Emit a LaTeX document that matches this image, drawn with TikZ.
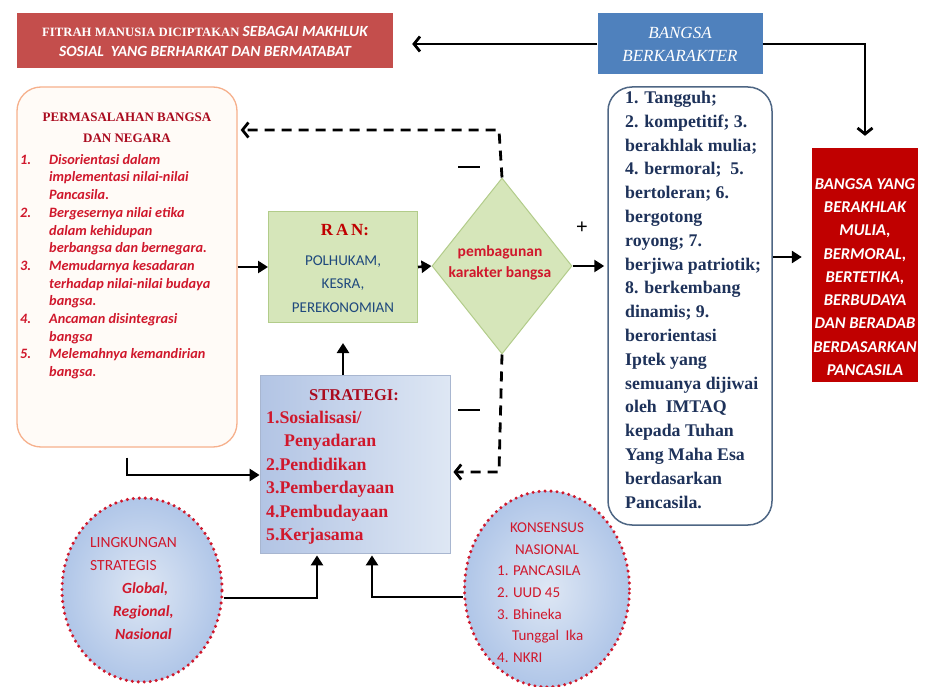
\documentclass[tikz,border=0pt]{standalone}
\usepackage{fontspec}
\setmainfont{Liberation Serif}
\newfontfamily\calib{Carlito}
\newfontfamily\lsans{Liberation Sans}
\usetikzlibrary{arrows.meta,positioning,shapes.geometric}
\definecolor{banner}{RGB}{196,78,76}
\definecolor{bblue}{RGB}{79,129,189}
\definecolor{dred}{RGB}{192,0,0}
\definecolor{txtred}{RGB}{208,24,44}
\definecolor{judulred}{RGB}{170,10,30}
\definecolor{navy}{RGB}{30,50,90}
\definecolor{ranblue}{RGB}{31,73,125}
\definecolor{rangreen}{RGB}{214,230,186}
\definecolor{ranedge}{RGB}{178,204,138}
\definecolor{salmon}{RGB}{246,176,140}
\definecolor{cream}{RGB}{255,251,247}
\definecolor{frameblue}{RGB}{78,102,132}
\definecolor{stratdark}{RGB}{178,196,228}
\definecolor{stratlight}{RGB}{222,231,244}
\definecolor{ellblue}{RGB}{176,198,232}
\newcommand{\fs}[2]{\fontsize{#1}{#2}\selectfont}
\newcommand{\nomor}[2]{\makebox[29pt][l]{#1}#2}
\newcommand{\lanjut}[1]{\hspace*{29pt}#1}

\begin{document}
\begin{tikzpicture}[x=1pt,y=-1pt,
    kotak/.style={rectangle, inner sep=0pt},
    teks/.style={inner sep=0pt, align=left},
    arr/.style={-{Triangle[length=10pt,width=12pt]}, line width=2.6pt},
    barb/.style={-{Straight Barb[length=6pt,width=15pt]}, line width=2.8pt},
    putus/.style={barb, dash pattern=on 10pt off 7pt},
    bulat/.style={ellipse, inner sep=0pt, draw=txtred, line width=3.4pt,
        dash pattern=on 0pt off 6pt, line cap=round,
        inner color=stratlight, outer color=ellblue},
    tanda/.style={inner sep=0pt}]
\useasboundingbox (0,0) rectangle (927,687);

\node[kotak, fill=banner, minimum width=376pt, minimum height=55pt,
  text=white, align=center, font=\fs{12.7}{20}\bfseries] (fitrah) at (205,41)
  {FITRAH MANUSIA DICIPTAKAN {\calib\fs{15.5}{20}\itshape SEBAGAI MAKHLUK}\\
   {\calib\fs{15.5}{20}\itshape SOSIAL\ \ YANG BERHARKAT DAN BERMATABAT}};
\node[kotak, fill=bblue, minimum width=165pt, minimum height=61pt,
  text=white, align=center, font=\fs{17}{23}\itshape] (bangsa) at (680,44)
  {BANGSA\\BERKARAKTER};

\node[kotak, draw=salmon, line width=1.3pt, rounded corners=24pt, fill=cream,
  minimum width=220pt, minimum height=360pt] (masalah) at (127,267) {};
\node[teks, align=center, text=judulred, font=\fs{13}{21}\bfseries,
  below=26pt of masalah.north] (masalahjudul) {PERMASALAHAN BANGSA\\DAN NEGARA};
\node[teks, anchor=north west, text=txtred, font=\calib\fs{14.3}{17.7}\bfseries\itshape]
  (masalahisi) at (20,154)
  {\nomor{1.}{Disorientasi dalam}\\
   \lanjut{implementasi nilai-nilai}\\
   \lanjut{Pancasila.}\\
   \nomor{2.}{Bergesernya nilai etika}\\
   \lanjut{dalam kehidupan}\\
   \lanjut{berbangsa dan bernegara.}\\
   \nomor{3.}{Memudarnya kesadaran}\\
   \lanjut{terhadap nilai-nilai budaya}\\
   \lanjut{bangsa.}\\
   \nomor{4.}{Ancaman disintegrasi}\\
   \lanjut{bangsa}\\
   \nomor{5.}{Melemahnya kemandirian}\\
   \lanjut{bangsa.}};

\node[kotak, fill=rangreen, draw=ranedge, line width=1pt,
  minimum width=149pt, minimum height=111pt] (ran) at (343,267) {};
\node[teks, text=dred, font=\fs{17}{20}\bfseries] (ranjudul) at (345,230) {R\,A\,N:};
\node[teks, align=center, text=ranblue, font=\calib\fs{15}{23.5}] (ranisi) at (343,284)
  {POLHUKAM,\\KESRA,\\PEREKONOMIAN};

\node[diamond, fill=rangreen, draw=ranedge, line width=1pt, inner sep=0pt,
  minimum width=140pt, minimum height=176pt] (karakter) at (502,266) {};
\node[teks, align=center, text=txtred, font=\calib\fs{15.5}{21}\bfseries]
  (karaktertxt) at (500,263) {pembagunan\\karakter bangsa};

\node[kotak, draw=frameblue, line width=1.5pt, rounded corners=24pt, fill=white,
  minimum width=164pt, minimum height=438pt] (sifat) at (690,306) {};
\node[teks, anchor=north west, text=navy, font=\fs{17.8}{23.8}\bfseries]
  (sifatisi) at (625,91)
  {1. Tangguh;\\
   2. kompetitif; 3.\\
   berakhlak mulia;\\
   4. bermoral;\ \ 5.\\
   bertoleran; 6.\\
   bergotong\\
   royong; 7.\\
   berjiwa patriotik;\\
   8. berkembang\\
   dinamis;\ 9.\\
   berorientasi\\
   Iptek yang\\
   semuanya dijiwai\\
   oleh\ \ IMTAQ\\
   kepada Tuhan\\
   Yang Maha Esa\\
   berdasarkan\\
   Pancasila.};

\node[kotak, fill=dred, minimum width=106pt, minimum height=234pt] (hasil) at (865,265) {};
\node[teks, align=center, text=white, font=\calib\fs{16.5}{23.3}\bfseries\itshape]
  (hasilisi) at (865,277)
  {BANGSA YANG\\BERAKHLAK\\MULIA,\\BERMORAL,\\BERTETIKA,\\BERBUDAYA\\DAN BERADAB\\BERDASARKAN\\PANCASILA};

\node[kotak, left color=stratdark, right color=stratlight, draw=stratdark!80!gray,
  line width=0.8pt, minimum width=190pt, minimum height=178pt] (strategi) at (355,464) {};
\node[teks, text=judulred, font=\fs{16.5}{20}\bfseries] (strategijudul) at (354,395) {STRATEGI:};
\node[teks, anchor=north west, text=txtred, font=\fs{17.8}{23.4}\bfseries]
  (strategiisi) at (266,411)
  {1.Sosialisasi/\\
   \hspace*{18pt}Penyadaran\\
   2.Pendidikan\\
   3.Pemberdayaan\\
   4.Pembudayaan\\
   5.Kerjasama};

\node[bulat, minimum width=160pt, minimum height=184pt] (lingkungan) at (142,590) {};
\node[teks, anchor=north west, text=txtred, font=\calib\fs{15.5}{23}] (lingkunganisi) at (90,537)
  {LINGKUNGAN\\
   STRATEGIS\\
   \hspace*{32pt}{\bfseries\itshape Global,}\\
   \hspace*{23pt}{\bfseries\itshape Regional,}\\
   \hspace*{25pt}{\bfseries\itshape Nasional}};

\node[bulat, minimum width=165pt, minimum height=196pt] (konsensus) at (547,589) {};
\node[teks, align=center, text=txtred, font=\calib\fs{15}{22}] (konsensusjudul) at (547,539)
  {KONSENSUS\\NASIONAL};
\node[teks, anchor=north west, text=txtred, font=\calib\fs{15}{21.6}] (konsensusisi) at (497,566)
  {1. PANCASILA\\
   2. UUD 45\\
   3. Bhineka\\
   \hspace*{15pt}Tunggal\ \ Ika\\
   4. NKRI};

\node[tanda] (kurangatas) at (469,167) {\rule{22pt}{2.6pt}};
\node[tanda] (kurangbawah) at (469,410) {\rule{22pt}{2.6pt}};
\node[tanda, font=\lsans\fs{20}{20}] (tambah) at (582,228) {+};

\coordinate (umpanatas) at (499,130);
\coordinate (umpanbawah) at (499,472);

\draw[barb, shorten >=19pt] (bangsa.west) -- (bangsa.west -| fitrah.east);
\draw[barb, shorten >=12pt] (bangsa.east) -| (hasil.north);
\draw[arr] (masalah.east |- ran.west) -- (ran.west);
\draw[arr] (ran.east) -- (karakter.west);
\draw[arr, shorten >=3pt] (karakter.east) -- (karakter.east -| sifat.west);
\draw[arr, shorten >=10pt] ([yshift=8pt]hasil.west -| sifat.east) -- ([yshift=8pt]hasil.west);
\draw[arr, shorten >=20pt] (ran.south |- strategi.north) -- (ran.south);
\draw[putus, shorten >=3pt] (karakter.north) -- (umpanatas) -- (umpanatas -| masalah.east);
\draw[putus, shorten >=3pt] (karakter.south) -- (umpanbawah) -- (umpanbawah -| strategi.east);
\draw[arr, shorten <=10pt] (masalah.south) |- ([yshift=-11pt]strategi.west);
\draw[arr, shorten >=2pt] ([yshift=-8pt]lingkungan.east) -| ([xshift=-38pt]strategi.south);
\draw[arr, shorten >=2pt] ([yshift=-8pt]konsensus.west) -| ([xshift=17pt]strategi.south);
\end{tikzpicture}
\end{document}
